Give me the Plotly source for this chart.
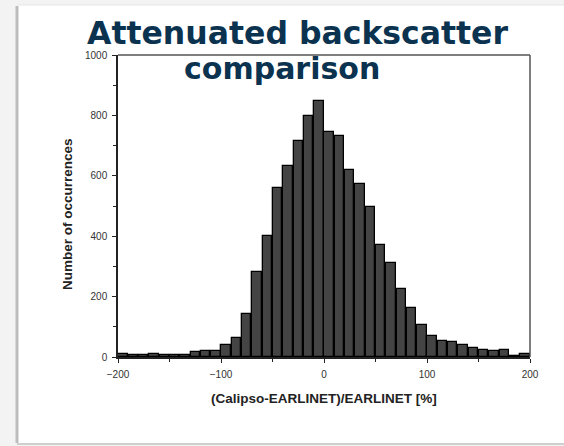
import plotly.graph_objects as go

bin_left = list(range(-200, 200, 10))
counts = [10, 5, 5, 10, 5, 8, 8, 15, 19, 19,
          40, 62, 143, 280, 400, 560, 631, 714, 797, 849,
          745, 733, 620, 573, 496, 372, 310, 226, 163, 107,
          71, 54, 49, 39, 30, 24, 19, 24, 4, 9]
x_ticks = [-200, -100, 0, 100, 200]
y_ticks = [0, 200, 400, 600, 800, 1000]
title_line1 = "Attenuated backscatter"
title_line2 = "comparison"
x_title = "(Calipso-EARLINET)/EARLINET [%]"
y_title = "Number of occurrences"

W, H = 564, 446
L, R, T, B = 118, 34, 55, 89
pw, ph = W - L - R, H - T - B

def px(x):
    return (x - L) / pw

def py(y):
    return (H - B - y) / ph

centers = [b + 5 for b in bin_left]

fig = go.Figure()
fig.add_trace(go.Bar(
    x=centers, y=counts, width=9.2,
    marker=dict(color="#444444", line=dict(color="#000000", width=1.3)),
    hoverinfo="x+y",
))

shapes = [
    dict(type="rect", xref="paper", yref="paper", x0=px(17), x1=px(600), y0=py(443), y1=py(5),
         fillcolor="white", line=dict(width=0), layer="below"),
    dict(type="line", xref="paper", yref="paper", x0=px(17), x1=px(17), y0=py(443), y1=py(6),
         line=dict(color="#bdbdbd", width=3), layer="below"),
    dict(type="line", xref="paper", yref="paper", x0=px(17), x1=px(600), y0=py(444), y1=py(444),
         line=dict(color="#cfcfcf", width=2), layer="below"),
    dict(type="line", xref="paper", yref="paper", x0=px(17), x1=px(600), y0=py(5), y1=py(5),
         line=dict(color="#e6e6e6", width=1), layer="below"),
]

tickfont = dict(family="Liberation Sans, Arial", size=10, color="#333")

fig.update_layout(
    width=W, height=H,
    margin=dict(l=L, r=R, t=T, b=B),
    paper_bgcolor="#f3f3f3", plot_bgcolor="white",
    showlegend=False,
    bargap=0,
    shapes=shapes,
    font=dict(family="Liberation Sans, Arial", color="#222222"),
    xaxis=dict(
        range=[-200, 200], tickvals=x_ticks, ticks="outside", ticklen=4, tickwidth=1,
        tickcolor="#222", showline=True, linecolor="#222", linewidth=1.5, mirror=False,
        showgrid=False, zeroline=False, tickfont=tickfont, ticklabelstandoff=3,
        minor=dict(tickvals=[-150, -50, 50, 150], ticks="outside", ticklen=3, tickcolor="#222"),
    ),
    yaxis=dict(
        range=[0, 1000], tickvals=y_ticks, ticks="outside", ticklen=4, tickwidth=1,
        tickcolor="#222", showline=True, linecolor="#222", linewidth=1.5, mirror=False,
        showgrid=False, zeroline=False, tickfont=tickfont, ticklabelstandoff=3,
        minor=dict(tickvals=[100, 300, 500, 700, 900], ticks="outside", ticklen=3, tickcolor="#222"),
    ),
    annotations=[
        dict(text=title_line1, xref="paper", yref="paper", x=px(297), y=py(33),
             showarrow=False, xanchor="center", yanchor="middle",
             font=dict(family="DejaVu Sans", size=31.5, color="#0b3350", weight="bold")),
        dict(text=title_line2, xref="paper", yref="paper", x=px(282), y=py(68),
             showarrow=False, xanchor="center", yanchor="middle",
             font=dict(family="DejaVu Sans", size=30, color="#0b3350", weight="bold")),
        dict(text=x_title, xref="paper", yref="paper", x=px(323.5), y=py(398),
             showarrow=False, xanchor="center", yanchor="middle",
             font=dict(family="Liberation Sans, Arial", size=13.5, color="#222", weight="bold")),
        dict(text=y_title, xref="paper", yref="paper", x=px(67), y=py(214), textangle=-90,
             showarrow=False, xanchor="center", yanchor="middle",
             font=dict(family="Liberation Sans, Arial", size=13.5, color="#222", weight="bold")),
    ],
)
fig.add_shape(type="line", xref="paper", yref="paper", x0=0, x1=1, y0=1, y1=1,
              line=dict(color="#555", width=1.5))
fig.add_shape(type="line", xref="paper", yref="paper", x0=1, x1=1, y0=0, y1=1,
              line=dict(color="#555", width=1.5))

fig.write_html("out.html")
